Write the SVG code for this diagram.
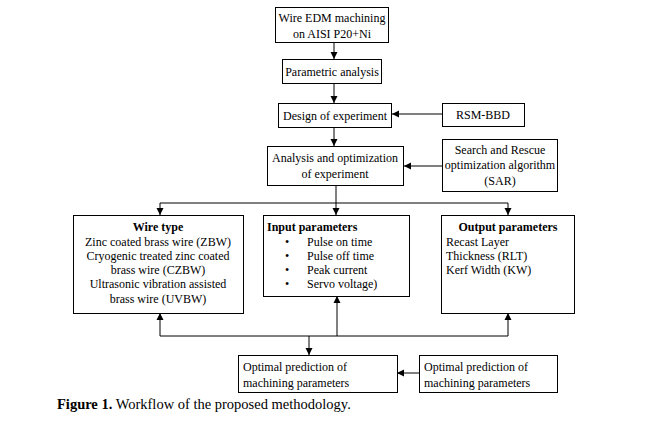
<svg xmlns="http://www.w3.org/2000/svg" width="657" height="426" viewBox="0 0 657 426">
<style>
.box{fill:#fff;stroke:#000;stroke-width:1}
text{font-family:"Liberation Serif","Times New Roman",serif;font-size:12px;fill:#000}
.c{text-anchor:middle}
.b{font-weight:bold}
.ln{fill:none;stroke:#000;stroke-width:1}
</style>
<defs>
<marker id="ah" markerWidth="8" markerHeight="8" refX="7" refY="4" orient="auto" markerUnits="userSpaceOnUse">
<path d="M0,0.5 L7,4 L0,7.5 Z" fill="#000"/>
</marker>
</defs>
<rect width="657" height="426" fill="#fff"/>
<g id="connectors">
<path class="ln" d="M334,43 V59" marker-end="url(#ah)"/>
<path class="ln" d="M334,84 V103" marker-end="url(#ah)"/>
<path class="ln" d="M442,114 H392" marker-end="url(#ah)"/>
<path class="ln" d="M334,127 V146" marker-end="url(#ah)"/>
<path class="ln" d="M442,166 H404" marker-end="url(#ah)"/>
<path class="ln" d="M336,185 V203"/>
<path class="ln" d="M160,203 H508"/>
<path class="ln" d="M160,203 V215" marker-end="url(#ah)"/>
<path class="ln" d="M336,203 V215" marker-end="url(#ah)"/>
<path class="ln" d="M508,203 V215" marker-end="url(#ah)"/>
<path class="ln" d="M160,336 V313" marker-end="url(#ah)"/>
<path class="ln" d="M337,336 V296" marker-end="url(#ah)"/>
<path class="ln" d="M508,336 V313" marker-end="url(#ah)"/>
<path class="ln" d="M160,336 H508"/>
<path class="ln" d="M309,336 V355" marker-end="url(#ah)"/>
<path class="ln" d="M419,373 H397" marker-end="url(#ah)"/>
</g>
<g id="n1"><rect class="box" x="275.5" y="7.5" width="113" height="35"/>
<text class="c" x="332" y="22">Wire EDM machining</text><text class="c" x="332" y="38">on AISI P20+Ni</text></g>
<g id="n2"><rect class="box" x="282.5" y="59.5" width="99" height="24"/>
<text class="c" x="332" y="76">Parametric  analysis</text></g>
<g id="n3"><rect class="box" x="278.5" y="103.5" width="113" height="24"/>
<text class="c" x="335" y="120">Design of experiment</text></g>
<g id="n4"><rect class="box" x="442.5" y="103.5" width="82" height="23"/>
<text class="c" x="483" y="119">RSM-BBD</text></g>
<g id="n5"><rect class="box" x="267.5" y="146.5" width="136" height="39"/>
<text class="c" x="335" y="162">Analysis and optimization</text><text class="c" x="335" y="178">of experiment</text></g>
<g id="n6"><rect class="box" x="442.5" y="139.5" width="115" height="52"/>
<text class="c" x="500" y="154">Search and Rescue</text><text class="c" x="500" y="169">optimization  algorithm</text><text class="c" x="500" y="185">(SAR)</text></g>
<g id="n7"><rect class="box" x="73.5" y="215.5" width="170" height="98"/>
<text class="c b" x="158" y="231">Wire type</text>
<text class="c" x="158" y="246">Zinc coated brass wire (ZBW)</text>
<text class="c" x="158" y="260">Cryogenic treated  zinc coated</text>
<text class="c" x="158" y="274">brass wire (CZBW)</text>
<text class="c" x="158" y="288">Ultrasonic vibration assisted</text>
<text class="c" x="158" y="303">brass wire (UVBW)</text></g>
<g id="n8"><rect class="box" x="263.5" y="215.5" width="146" height="81"/>
<text class="b" x="267" y="231">Input parameters</text>
<text x="285" y="246">•</text><text x="307" y="246">Pulse on time</text>
<text x="285" y="260">•</text><text x="307" y="260">Pulse off time</text>
<text x="285" y="274">•</text><text x="307" y="274">Peak current</text>
<text x="285" y="288">•</text><text x="307" y="288">Servo voltage)</text></g>
<g id="n9"><rect class="box" x="441.5" y="215.5" width="133" height="98"/>
<text class="c b" x="508" y="231">Output parameters</text>
<text x="446" y="246">Recast Layer</text>
<text x="446" y="260">Thickness  (RLT)</text>
<text x="446" y="274">Kerf Width (KW)</text></g>
<g id="n10"><rect class="box" x="238.5" y="355.5" width="159" height="37"/>
<text x="243" y="371">Optimal prediction  of</text><text x="243" y="387">machining  parameters</text></g>
<g id="n11"><rect class="box" x="419.5" y="355.5" width="138" height="37"/>
<text x="424" y="371">Optimal prediction  of</text><text x="424" y="387">machining  parameters</text></g>
<text x="57" y="409" style="font-size:14.5px"><tspan class="b">Figure 1.</tspan> Workflow of the proposed methodology.</text>
</svg>
